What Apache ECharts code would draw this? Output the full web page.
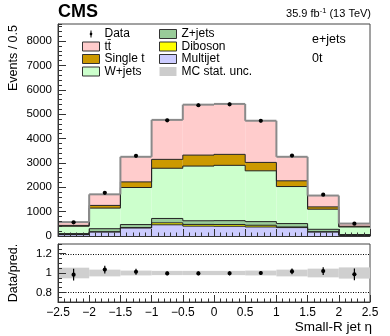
<!DOCTYPE html>
<html>
<head>
<meta charset="utf-8">
<script src="https://cdn.jsdelivr.net/npm/echarts@6/dist/echarts.min.js"></script>
<style>
  html, body { margin: 0; padding: 0; background: #fff; }
  #main { width: 390px; height: 336px; }
</style>
</head>
<body>
<div id="main"></div>
<script>
// bin edges in small-R jet eta
var edges = [-2.5, -2, -1.5, -1, -0.5, 0, 0.5, 1, 1.5, 2, 2.5];

// stacked backgrounds, bottom to top (events / bin)
var multijet = [55, 165, 330, 460, 405, 400, 370, 345, 165, 25];
var diboson  = [5, 10, 15, 80, 70, 70, 70, 25, 10, 5];
var zjets    = [40, 125, 125, 180, 150, 160, 150, 140, 100, 30];
var wjets    = [300, 845, 1520, 2060, 2245, 2270, 2085, 1520, 825, 310];
var singlet  = [35, 110, 230, 365, 450, 450, 345, 235, 95, 30];
var ttbar    = [135, 455, 1030, 1620, 2070, 2070, 1710, 985, 465, 110];

// data points
var dataVals = [560, 1770, 3290, 4745, 5365, 5405, 4730, 3300, 1695, 505];
var dataErr  = [24, 42, 57, 69, 73, 74, 69, 57, 41, 22];

// ratio panel
var ratioVals = [0.983, 1.035, 1.013, 0.996, 0.996, 0.997, 1.0, 1.016, 1.02, 0.986];
var ratioErr  = [0.06, 0.04, 0.03, 0.02, 0.02, 0.02, 0.02, 0.03, 0.04, 0.06];
var mcUnc     = [0.055, 0.035, 0.025, 0.022, 0.022, 0.022, 0.025, 0.035, 0.045, 0.058];

var ratioLabels = [0.8, 1, 1.2];
var refLines = [0.8, 1.2];

var FONT = 'Liberation Sans, Arial, Helvetica, sans-serif';

var comps = [
  { name: 'Multijet', vals: multijet, color: '#ccccff' },
  { name: 'Diboson', vals: diboson, color: '#ffff00' },
  { name: 'Z+jets', vals: zjets, color: '#99cc99' },
  { name: 'W+jets', vals: wjets, color: '#ccffcc' },
  { name: 'Single t', vals: singlet, color: '#cc9900' },
  { name: 'tt\u0304', vals: ttbar, color: '#ffcccc' }
];

// cumulative stack bounds
var lows = [], highs = [];
var run = edges.slice(1).map(function () { return 0; });
comps.forEach(function (c) {
  lows.push(run.slice());
  run = run.map(function (v, i) { return v + c.vals[i]; });
  highs.push(run.slice());
});

var mids = [];
for (var i = 0; i < edges.length - 1; i++) mids.push((edges[i] + edges[i + 1]) / 2);

function rectItem(fill) {
  return function (params, api) {
    var a = api.coord([api.value(0), api.value(3)]);
    var b = api.coord([api.value(1), api.value(2)]);
    return {
      type: 'rect',
      shape: { x: a[0], y: a[1], width: b[0] - a[0], height: b[1] - a[1] },
      style: { fill: fill }
    };
  };
}

var series = [];
comps.forEach(function (c, k) {
  series.push({
    name: c.name,
    type: 'custom',
    xAxisIndex: 0, yAxisIndex: 0,
    renderItem: rectItem(c.color),
    itemStyle: { color: c.color },
    encode: { x: [0, 1], y: [2, 3] },
    z: 2,
    data: mids.map(function (m, i) { return [edges[i], edges[i + 1], lows[k][i], highs[k][i]]; })
  });
});

// step outlines of each stack layer
var outlineData = [];
comps.forEach(function (c, k) {
  for (var i = 0; i < mids.length; i++) {
    outlineData.push([edges[i], edges[i + 1], highs[k][i], i > 0 ? highs[k][i - 1] : highs[k][i], k]);
  }
});
series.push({
  type: 'custom',
  xAxisIndex: 0, yAxisIndex: 0,
  z: 3,
  silent: true,
  encode: { x: [0, 1], y: [2, 3] },
  data: outlineData,
  renderItem: function (params, api) {
    var top = api.value(4) === comps.length - 1;
    var a = api.coord([api.value(0), api.value(2)]);
    var b = api.coord([api.value(1), api.value(2)]);
    var p = api.coord([api.value(0), api.value(3)]);
    var st = { stroke: top ? '#8a8a8a' : '#222', lineWidth: top ? 2 : 1 };
    return {
      type: 'group',
      children: [
        { type: 'line', shape: { x1: a[0], y1: a[1], x2: b[0], y2: b[1] }, style: st },
        { type: 'line', shape: { x1: a[0], y1: p[1], x2: a[0], y2: a[1] }, style: st }
      ]
    };
  }
});

function pointItem(params, api) {
  var c = api.coord([api.value(0), api.value(1)]);
  var lo = api.coord([api.value(0), api.value(1) - api.value(2)]);
  var hi = api.coord([api.value(0), api.value(1) + api.value(2)]);
  return {
    type: 'group',
    children: [
      { type: 'line', shape: { x1: c[0], y1: lo[1], x2: c[0], y2: hi[1] }, style: { stroke: '#000', lineWidth: 1.2 } },
      { type: 'circle', shape: { cx: c[0], cy: c[1], r: 2.1 }, style: { fill: '#000' } }
    ]
  };
}

series.push({
  name: 'Data',
  type: 'custom',
  xAxisIndex: 0, yAxisIndex: 0,
  z: 5,
  itemStyle: { color: '#000' },
  encode: { x: 0, y: 1 },
  renderItem: pointItem,
  data: mids.map(function (m, i) { return [m, dataVals[i], dataErr[i]]; })
});

// ratio panel
series.push({
  name: 'MC stat. unc.',
  type: 'custom',
  xAxisIndex: 1, yAxisIndex: 2,
  z: 2,
  itemStyle: { color: '#cccccc' },
  encode: { x: [0, 1], y: [2, 3] },
  renderItem: rectItem('#cfcfcf'),
  data: mids.map(function (m, i) { return [edges[i], edges[i + 1], 1 - mcUnc[i], 1 + mcUnc[i]]; })
});
series.push({
  type: 'custom',
  xAxisIndex: 1, yAxisIndex: 2,
  z: 3,
  silent: true,
  encode: { x: [0, 1], y: 2 },
  data: refLines.map(function (v) { return [edges[0], edges[edges.length - 1], v]; }),
  renderItem: function (params, api) {
    var a = api.coord([api.value(0), api.value(2)]);
    var b = api.coord([api.value(1), api.value(2)]);
    return {
      type: 'line',
      shape: { x1: a[0], y1: Math.round(a[1]) + 0.5, x2: b[0], y2: Math.round(b[1]) + 0.5 },
      style: { stroke: '#000', lineWidth: 1, lineDash: [1, 1.5] }
    };
  }
});
series.push({
  name: 'ratio',
  type: 'custom',
  xAxisIndex: 1, yAxisIndex: 2,
  z: 5,
  encode: { x: 0, y: 1 },
  renderItem: pointItem,
  data: mids.map(function (m, i) { return [m, ratioVals[i], ratioErr[i]]; })
});

var tickCol = '#333';
function xAxisDef(grid, labels) {
  return {
    type: 'value', gridIndex: grid, min: -2.5, max: 2.5, interval: 0.5, z: 10,
    axisLine: { show: true, onZero: false, lineStyle: { color: tickCol } },
    axisTick: { inside: true, length: 7, lineStyle: { color: tickCol } },
    minorTick: { show: true, splitNumber: 5, length: 3.5, lineStyle: { color: tickCol } },
    splitLine: { show: false },
    axisLabel: {
      show: labels, margin: 5, color: '#000', fontSize: 12, fontFamily: FONT,
      formatter: function (v) { return String(v).replace('-', '\u2212'); }
    }
  };
}

function plain(v) { return String(v); }

var option = {
  animation: false,
  backgroundColor: '#fff',
  grid: [
    { left: 58, top: 24, width: 312, height: 212, show: true, borderColor: '#444', borderWidth: 1, backgroundColor: 'transparent' },
    { left: 58, top: 244, width: 312, height: 58, show: true, borderColor: '#444', borderWidth: 1, backgroundColor: 'transparent' }
  ],
  xAxis: [xAxisDef(0, false), xAxisDef(1, true)],
  yAxis: [
    {
      type: 'value', gridIndex: 0, min: 0, max: 8700, interval: 1000, z: 10,
      axisLine: { show: true, onZero: false, lineStyle: { color: tickCol } },
      axisTick: { inside: true, length: 8, lineStyle: { color: tickCol } },
      splitLine: { show: false },
      axisLabel: { showMaxLabel: false, margin: 6, color: '#000', fontSize: 11.5, fontFamily: FONT, formatter: plain }
    },
    {
      type: 'value', gridIndex: 0, min: 0, max: 8700, interval: 200, z: 10, position: 'left',
      axisLine: { show: false, onZero: false },
      axisTick: { inside: true, length: 4, lineStyle: { color: tickCol } },
      splitLine: { show: false },
      axisLabel: { show: false }
    },
    {
      type: 'value', gridIndex: 1, min: 0.7, max: 1.3, z: 10,
      axisLine: { show: true, onZero: false, lineStyle: { color: tickCol } },
      axisTick: { inside: true, length: 8, customValues: ratioLabels, lineStyle: { color: tickCol } },
      splitLine: { show: false },
      axisLabel: { customValues: ratioLabels, margin: 6, color: '#000', fontSize: 11.5, fontFamily: FONT, formatter: plain }
    },
    {
      type: 'value', gridIndex: 1, min: 0.7, max: 1.3, interval: 0.05, z: 10, position: 'left',
      axisLine: { show: false, onZero: false },
      axisTick: { inside: true, length: 4, lineStyle: { color: tickCol } },
      splitLine: { show: false },
      axisLabel: { show: false }
    }
  ],
  legend: [
    {
      left: 82, top: 28, orient: 'vertical', padding: 0, itemGap: 0.5,
      itemWidth: 17, itemHeight: 9, selectedMode: false,
      textStyle: { fontSize: 12, fontFamily: FONT, color: '#000', lineHeight: 12 },
      data: [
        { name: 'Data', icon: 'path://M0,0 M17,9 M8,1 L9,1 L9,3 A1.8,1.8 0 0 1 9,6 L9,8 L8,8 L8,6 A1.8,1.8 0 0 1 8,3 Z', itemStyle: { color: '#000', borderWidth: 0 } },
        { name: 'tt\u0304', icon: 'rect', itemStyle: { color: '#ffcccc', borderColor: '#333', borderWidth: 1 } },
        { name: 'Single t', icon: 'rect', itemStyle: { color: '#cc9900', borderColor: '#333', borderWidth: 1 } },
        { name: 'W+jets', icon: 'rect', itemStyle: { color: '#ccffcc', borderColor: '#333', borderWidth: 1 } }
      ]
    },
    {
      left: 159, top: 28, orient: 'vertical', padding: 0, itemGap: 0.5,
      itemWidth: 17, itemHeight: 9, selectedMode: false,
      textStyle: { fontSize: 12, fontFamily: FONT, color: '#000', lineHeight: 12 },
      data: [
        { name: 'Z+jets', icon: 'rect', itemStyle: { color: '#99cc99', borderColor: '#333', borderWidth: 1 } },
        { name: 'Diboson', icon: 'rect', itemStyle: { color: '#ffff00', borderColor: '#333', borderWidth: 1 } },
        { name: 'Multijet', icon: 'rect', itemStyle: { color: '#ccccff', borderColor: '#333', borderWidth: 1 } },
        { name: 'MC stat. unc.', icon: 'rect', itemStyle: { color: '#cccccc', borderWidth: 0 } }
      ]
    }
  ],
  graphic: [
    { type: 'text', x: 58, y: 12.5, style: { text: 'CMS', font: 'bold 18px ' + FONT, fill: '#000', verticalAlign: 'middle' } },
    {
      type: 'text', x: 371, y: 14,
      style: {
        text: '{a|35.9 fb}{s|-1}{a| (13 TeV)}', align: 'right', verticalAlign: 'middle',
        rich: {
          a: { fontSize: 11, fontFamily: FONT, fill: '#000' },
          s: { fontSize: 7.5, fontFamily: FONT, fill: '#000', padding: [0, 0, 6, 0] }
        }
      }
    },
    { type: 'text', x: 312, y: 40, style: { text: 'e+jets', fontSize: 12.5, fontFamily: FONT, fill: '#000', verticalAlign: 'middle' } },
    { type: 'text', x: 312, y: 59, style: { text: '0t', fontSize: 12.5, fontFamily: FONT, fill: '#000', verticalAlign: 'middle' } },
    { type: 'text', x: 14, y: 25, rotation: Math.PI / 2, style: { text: 'Events / 0.5', fontSize: 12.5, fontFamily: FONT, fill: '#000', align: 'right', verticalAlign: 'middle' } },
    { type: 'text', x: 14, y: 273, rotation: Math.PI / 2, style: { text: 'Data/pred.', fontSize: 12.5, fontFamily: FONT, fill: '#000', align: 'center', verticalAlign: 'middle' } },
    { type: 'text', x: 372, y: 327, style: { text: 'Small-R jet \u03b7', fontSize: 13.5, fontFamily: FONT, fill: '#000', align: 'right', verticalAlign: 'middle' } }
  ],
  series: series
};

var chart = echarts.init(document.getElementById('main'), null, { renderer: 'canvas' });
chart.setOption(option);
</script>
</body>
</html>
